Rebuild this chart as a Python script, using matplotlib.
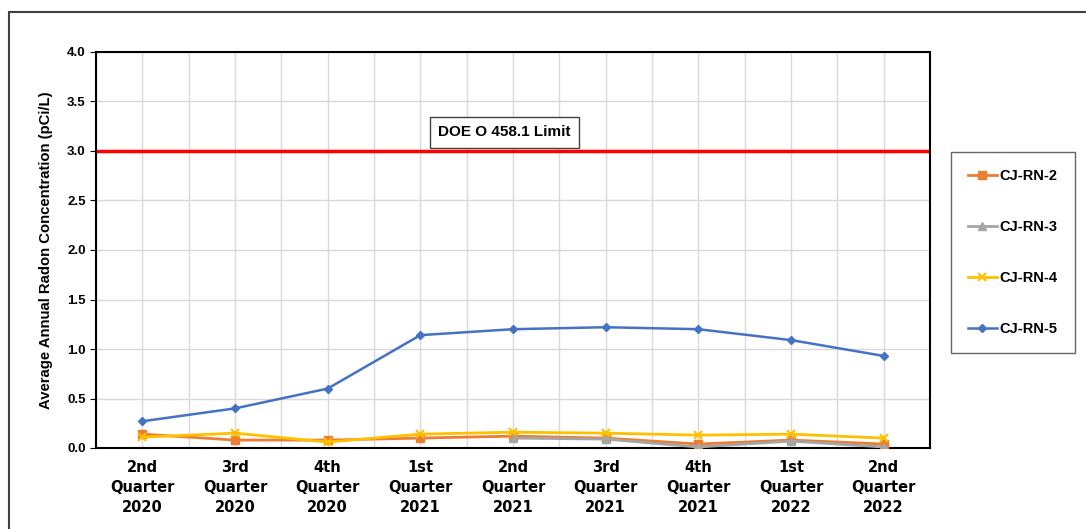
import numpy as np
import matplotlib.pyplot as plt
from matplotlib.patches import Rectangle

plt.rcParams['font.family'] = ['Liberation Sans', 'DejaVu Sans']
plt.rcParams['font.weight'] = 'bold'

quarters = ["2nd\nQuarter\n2020", "3rd\nQuarter\n2020", "4th\nQuarter\n2020",
            "1st\nQuarter\n2021", "2nd\nQuarter\n2021", "3rd\nQuarter\n2021",
            "4th\nQuarter\n2021", "1st\nQuarter\n2022", "2nd\nQuarter\n2022"]
rn2 = [0.14, 0.08, 0.08, 0.10, 0.12, 0.10, 0.04, 0.08, 0.04]
rn3 = [np.nan, np.nan, np.nan, np.nan, 0.10, 0.09, 0.01, 0.07, 0.01]
rn4 = [0.11, 0.15, 0.06, 0.14, 0.16, 0.15, 0.13, 0.14, 0.10]
rn5 = [0.27, 0.40, 0.60, 1.14, 1.20, 1.22, 1.20, 1.09, 0.93]
limit = 3.0

fig = plt.figure(figsize=(10.86, 5.29), dpi=100)
# outer chart border (top and left visible)
fig.patches.append(Rectangle((9 / 1086, -0.1), 1.2, 1 - 12 / 529 + 0.1,
                             transform=fig.transFigure, fill=False,
                             edgecolor='#404040', linewidth=1.5))
ax = fig.add_axes([96 / 1086, 1 - 448 / 529, (930 - 96) / 1086, (448 - 52) / 529])

x = np.arange(len(quarters))
ax.axhline(limit, color='#ff0000', linewidth=2.5, zorder=2)
ax.plot(x, rn2, color='#ed7d31', marker='s', markersize=6, linewidth=2, label='CJ-RN-2', zorder=3)
ax.plot(x, rn3, color='#a5a5a5', marker='^', markersize=6, linewidth=2, label='CJ-RN-3', zorder=3)
ax.plot(x, rn4, color='#ffc000', marker='x', markersize=6, markeredgewidth=1.5, linewidth=2, label='CJ-RN-4', zorder=3)
ax.plot(x, rn5, color='#4472c4', marker='D', markersize=4.5, linewidth=1.8, label='CJ-RN-5', zorder=3)

ax.set_xlim(-0.5, len(quarters) - 0.5)
ax.set_ylim(0, 4)
ax.set_yticks(np.arange(0, 4.01, 0.5))
ax.set_yticklabels([f"{v:.1f}" for v in np.arange(0, 4.01, 0.5)], fontsize=9.5, fontweight='bold')
ax.set_xticks(x)
ax.set_xticklabels(quarters, fontsize=10.5, fontweight='bold', linespacing=1.38,
                   family=['DejaVu Sans'])
ax.set_xticks(np.arange(-0.5, len(quarters), 0.5), minor=True)
ax.tick_params(axis='x', which='both', length=0, pad=9)
ax.tick_params(axis='y', length=4, color='black')
ax.grid(which='both', axis='x', color='#d9d9d9', linewidth=1)
ax.grid(which='major', axis='y', color='#d9d9d9', linewidth=1)
ax.set_axisbelow(True)
for s in ax.spines.values():
    s.set_color('black')
    s.set_linewidth(1.5)

ax.set_ylabel('Average Annual Radon Concentration (pCi/L)', fontsize=10.7, fontweight='bold', labelpad=10)

ax.text(3.91, 3.19, 'DOE O 458.1 Limit', fontsize=11, fontweight='bold', ha='center', va='center',
        bbox=dict(boxstyle='square,pad=0.55', facecolor='white', edgecolor='#404040', linewidth=1), zorder=5)

leg = fig.legend(loc='upper left', bbox_to_anchor=(951 / 1086, 1 - 152 / 529),
                 frameon=True, fancybox=False, edgecolor='#404040', fontsize=10.5,
                 labelspacing=2.55, handlelength=2.0, handletextpad=0.2,
                 borderpad=1.15, borderaxespad=0)
leg.get_frame().set_linewidth(1)
for t in leg.get_texts():
    t.set_fontweight('bold')

fig.savefig('out.png', dpi=100)
